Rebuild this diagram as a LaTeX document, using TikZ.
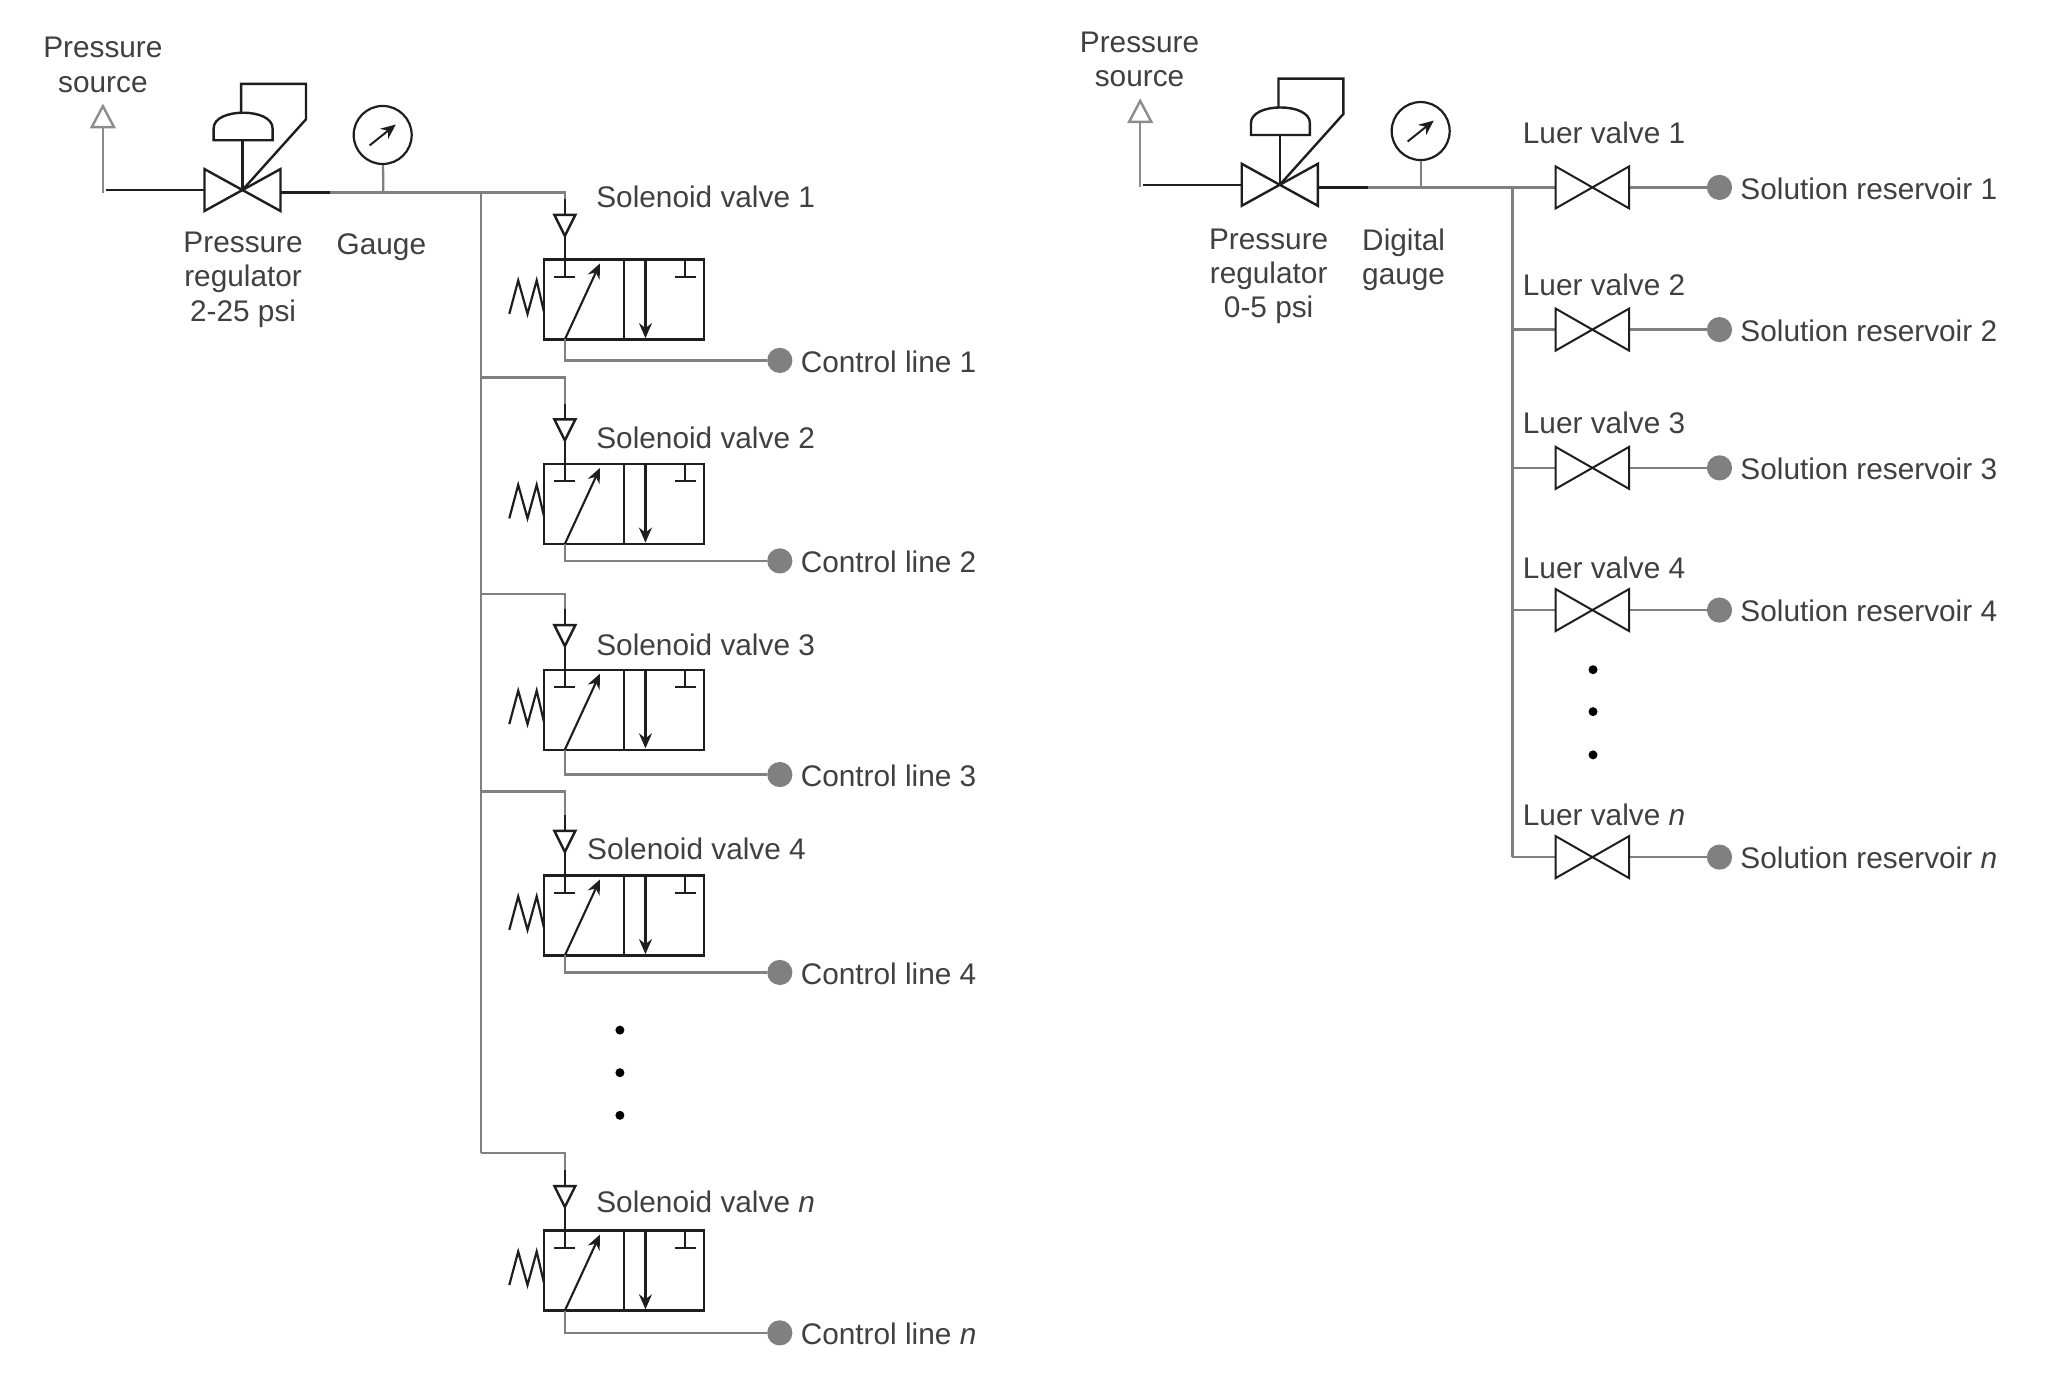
\documentclass[tikz,border=0pt]{standalone}
\usepackage{fontspec}
\setmainfont{Liberation Sans}
\usetikzlibrary{arrows.meta}
\definecolor{lineg}{HTML}{808080}
\definecolor{srcg}{HTML}{8C8C8C}
\definecolor{ink}{HTML}{1E1E1E}
\definecolor{txt}{HTML}{404040}
\definecolor{dotg}{HTML}{808080}
\tikzset{
  x=0.6553pt,y=-0.6553pt,
  graypipe/.style={draw=lineg,line width=1.15pt,line join=miter},
  srcpipe/.style={draw=srcg,line width=1.2pt,line join=miter},
  inkline/.style={draw=ink,line width=1.2pt,line join=miter},
  thinink/.style={draw=ink,line width=1pt},
  label/.style={text=txt,font=\fontsize{14.9}{17.1}\selectfont,inner sep=0pt,outer sep=0pt},
  multi/.style={label,align=center,anchor=center},
  solbox/.style={draw=ink,line width=1.15pt,rectangle,minimum width=79.9pt,minimum height=40pt,anchor=north west,inner sep=0pt,outer sep=0pt},
  port/.style={circle,fill=dotg,draw=none,minimum size=12.6pt,inner sep=0pt},
  blackdot/.style={circle,fill=black,draw=none,minimum size=4.5pt,inner sep=0pt},
  tipa/.style={-{Stealth[length=7.5pt,width=6.5pt,inset=2.5pt]}},
}
\newcommand{\regulator}[3]{%
  \begin{scope}[shift={(#2,#3)}]
    \coordinate (#1srcb) at (78.5,147);
    \coordinate (#1srct) at (78.5,97);
    \coordinate (#1c) at (185,145);
    \coordinate (#1in) at (81,145);
    \coordinate (#1vl) at (156,145);
    \coordinate (#1vr) at (214,147);
    \coordinate (#1mid) at (252,147);
    \coordinate (#1stem) at (185,107);
    \draw[srcpipe] (#1srcb) -- (#1srct);
    \draw[srcpipe,line join=miter] (70,97) -- (78.5,81) -- (87,97) -- cycle;
    \draw[inkline] (#1in) -- (#1vl);
    \draw[inkline] (#1c) -- (156,129) -- (156,161) -- cycle;
    \draw[inkline] (#1c) -- (214,129) -- (214,161) -- cycle;
    \draw[inkline] (#1vr) -- (#1mid);
    \draw[inkline] (#1c) -- (#1stem);
    \draw[inkline] (163,107) -- (163,98) .. controls (163,90) and (174,86) .. (185.5,86) .. controls (197,86) and (208,90) .. (208,98) -- (208,107) -- cycle;
    \draw[inkline] (184,86) -- (184,64) -- (233.5,64) -- (233.5,91) -- (#1c);
  \end{scope}}
\newcommand{\gaugeat}[3]{%
  \node[circle,draw=ink,line width=1.1pt,minimum size=29pt,inner sep=0pt] (#1) at (#2,#3) {};
  \coordinate (#1a) at (#2-10,#3+8);
  \coordinate (#1b) at (#2+10,#3-8);
  \draw[thinink,tipa] (#1a) -- (#1b);}
% id, boxtop, branchy, controly, labelx, labely, text, controltext
\newcommand{\solenoid}[8]{%
  \coordinate (br#1) at (367,#3);
  \coordinate (cn#1) at (431,#3);
  \coordinate (tt#1) at (431,#2-34);
  \coordinate (ta#1) at (431,#2-18);
  \coordinate (kn#1) at (431,#4);
  \node[solbox] (box#1) at (415,#2) {};
  \coordinate (bt#1) at (431,#2);
  \coordinate (bb#1) at (431,#2+61);
  \node[port] (cl#1) at (595,#4) {};
  \draw[graypipe] (br#1) -- (cn#1) -- (tt#1);
  \draw[inkline] (431,#2-46) -- (tt#1);
  \draw[inkline] (423,#2-34) -- (439,#2-34) -- (ta#1) -- cycle;
  \draw[inkline] (ta#1) -- (bt#1);
  \draw[draw=ink,line width=1.15pt] (476,#2) -- (476,#2+61);
  \draw[thinink] (bt#1) -- (431,#2+13.3);
  \draw[thinink] (423,#2+13.3) -- (439,#2+13.3);
  \draw[thinink] (522.8,#2) -- (522.8,#2+13.3);
  \draw[thinink] (514.8,#2+13.3) -- (530.8,#2+13.3);
  \draw[draw=ink,line width=1.05pt,tipa] (bb#1) -- (457.8,#2+3);
  \draw[draw=ink,line width=1.05pt,tipa] (492.5,#2) -- (492.5,#2+60);
  \draw[draw=ink,line width=1.1pt,line join=miter] (388.6,#2+41.5) -- (395.4,#2+16) -- (402.5,#2+41.5) -- (409.5,#2+16) -- (415,#2+39.7);
  \draw[graypipe] (bb#1) -- (kn#1) -- (cl#1);
  \node[label,anchor=base west] (sl#1) at (#5,#6+8.5) {#7};
  \node[label,anchor=base west] (ct#1) at (611,#4+9) {#8};}
% id, y, labely, valvelabel, reservoirlabel
\newcommand{\luer}[5]{%
  \coordinate (lb#1) at (1154,#2);
  \coordinate (ll#1) at (1187,#2);
  \coordinate (lc#1) at (1215,#2);
  \coordinate (lr#1) at (1243,#2);
  \node[port] (sr#1) at (1312,#2) {};
  \draw[graypipe] (lb#1) -- (ll#1);
  \draw[graypipe] (lr#1) -- (sr#1);
  \draw[inkline,line width=1pt] (lc#1) -- (1187,#2-16) -- (1187,#2+16) -- cycle;
  \draw[inkline,line width=1pt] (lc#1) -- (1243,#2-16) -- (1243,#2+16) -- cycle;
  \node[label,anchor=base west] (lv#1) at (1162,#3+8.5) {#4};
  \node[label,anchor=base west] (sv#1) at (1328,#2+9) {#5};}
\begin{document}
\begin{tikzpicture}
\fill[white] (0,0) rectangle (1568,1057.5);
\useasboundingbox (0,0) rectangle (1568,1057.5);
% ---- left panel
\regulator{A}{0}{0}
\gaugeat{gA}{292}{103}
\coordinate (gAf) at (292.5,147);
\coordinate (mA) at (367,147);
\coordinate (mAb) at (367,880);
\draw[graypipe] (Amid) -- (mA);
\draw[graypipe] (gA) -- (gAf);
\draw[graypipe] (mA) -- (mAb);
\node[multi] (tA1) at (78.5,49.5) {Pressure\\source};
\node[multi] (tA2) at (185.5,213.5) {Pressure\\regulator\\2-25 psi};
\node[label,anchor=base] (tA3) at (291,194) {Gauge};
\solenoid{1}{198}{147}{275}{455}{150}{Solenoid valve 1}{Control line 1}
\solenoid{2}{354}{288}{428}{455}{334}{Solenoid valve 2}{Control line 2}
\solenoid{3}{511}{453}{591}{455}{492}{Solenoid valve 3}{Control line 3}
\solenoid{4}{668}{604}{742}{448}{647}{Solenoid valve 4}{Control line 4}
\solenoid{5}{939}{880}{1017}{455}{917}{Solenoid valve \textit{n}}{Control line \textit{n}}
\node[blackdot] (dA1) at (473,786) {};
\node[blackdot] (dA2) at (473,818.5) {};
\node[blackdot] (dA3) at (473,851) {};
% ---- right panel
\regulator{B}{791.5}{-4}
\gaugeat{gB}{1084}{100}
\coordinate (gBf) at (1084,143);
\coordinate (mB) at (1154,143);
\coordinate (mBb) at (1154,654);
\draw[graypipe] (Bmid) -- (mB);
\draw[graypipe] (gB) -- (gBf);
\draw[graypipe] (mB) -- (mBb);
\node[multi] (tB1) at (869.5,45.5) {Pressure\\source};
\node[multi] (tB2) at (968,211) {Pressure\\regulator\\0-5 psi};
\node[multi] (tB3) at (1071,198.5) {Digital\\gauge};
\luer{1}{143}{101}{Luer valve 1}{Solution reservoir 1}
\luer{2}{251.5}{217}{Luer valve 2}{Solution reservoir 2}
\luer{3}{357}{322}{Luer valve 3}{Solution reservoir 3}
\luer{4}{465.5}{433}{Luer valve 4}{Solution reservoir 4}
\luer{5}{654}{621}{Luer valve \textit{n}}{Solution reservoir \textit{n}}
\node[blackdot] (dB1) at (1215.5,511) {};
\node[blackdot] (dB2) at (1215.5,543) {};
\node[blackdot] (dB3) at (1215.5,576) {};
\end{tikzpicture}
\end{document}
